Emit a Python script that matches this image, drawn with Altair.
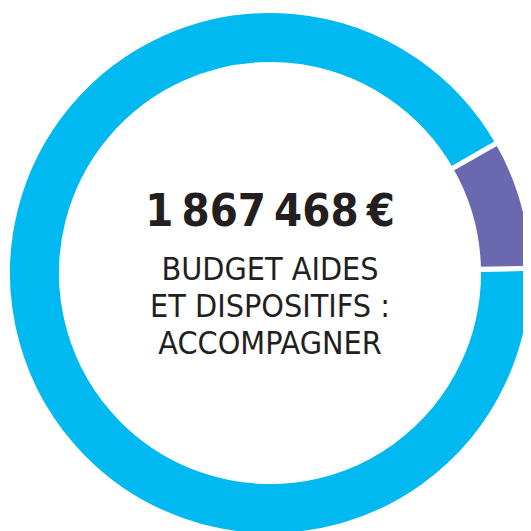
import math
import altair as alt
import pandas as pd

# Data
segments = ["Accompagner (autres)", "Accompagner (part)"]
shares = [92, 8]
colors = ["#00b9f0", "#6a68ae"]
order_idx = [2, 1]

total_label = ["1\u2009867\u2009468\u2009€"]
subtitle_lines = [["BUDGET AIDES", "ET DISPOSITIFS :", "ACCOMPAGNER"]]

start = math.radians(60.2)

df = pd.DataFrame({
    "segment": segments,
    "share": shares,
    "ord": order_idx,
})

W = 515
H = 523
CX = 262
CY = 265

theta = alt.Theta("share:Q", stack=True,
                  scale=alt.Scale(range=[start, start + 2 * math.pi]))

arcs = alt.Chart(df).mark_arc(
    outerRadius=262.5, innerRadius=208.5, stroke="white", strokeWidth=5
).encode(
    theta=theta,
    order=alt.Order("ord:Q"),
    color=alt.Color("segment:N", scale=alt.Scale(domain=segments, range=colors), legend=None),
    x=alt.value(CX),
    y=alt.value(CY),
)

tdf = pd.DataFrame({"t": total_label})
total = alt.Chart(tdf).mark_text(
    font="DejaVu Sans Condensed", fontWeight="bold", fontSize=45,
    color="#231f20", align="center", baseline="alphabetic"
).encode(
    text="t:N",
    x=alt.value(CX),
    y=alt.value(218),
)

sdf = pd.DataFrame({"s": subtitle_lines})
sub = alt.Chart(sdf).mark_text(
    font="DejaVu Sans Condensed", fontSize=32, lineHeight=37,
    color="#231f20", align="center", baseline="alphabetic"
).encode(
    text="s",
    x=alt.value(CX),
    y=alt.value(272),
)

chart = alt.layer(arcs, total, sub).properties(
    width=W, height=H, autosize=alt.AutoSizeParams(type="none"), padding=0
).configure_view(stroke=None)

chart.save("out.html", embed_options={"renderer": "svg", "actions": False})
